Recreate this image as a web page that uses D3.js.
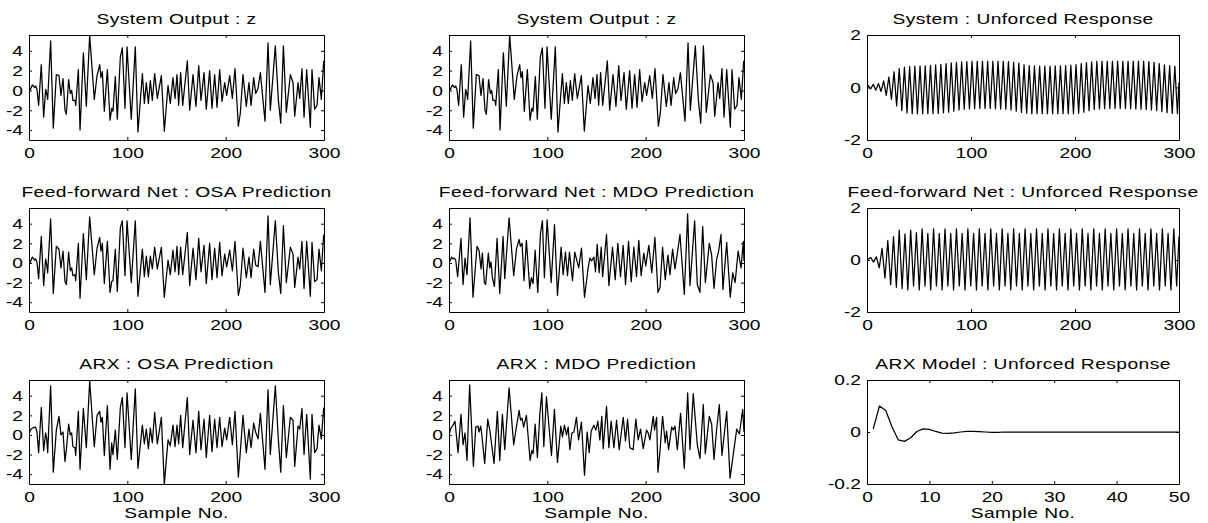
<!DOCTYPE html>
<html>
<head>
<meta charset="utf-8">
<script src="https://cdnjs.cloudflare.com/ajax/libs/d3/7.8.5/d3.min.js"></script>
<style>
  html, body { margin: 0; padding: 0; background: #fff; }
  svg { display: block; }
</style>
</head>
<body>
<svg id="fig" width="1208" height="523"></svg>
<script>
// ---------------------------------------------------------------------------
// Data: turning points of each record (sample number, value)
// ---------------------------------------------------------------------------

// Sample numbers of the turning points shared by z and the one-step-ahead predictions
const zSamples = [0, 1.4, 3.4, 5.8, 6.8, 8.1, 9.8, 12.5, 14.9, 16.9, 18, 19, 22, 24.7, 27.8, 30.5, 32.5, 34.6, 36.6, 38,
  40.3, 42, 43.4, 44.7, 46.8, 47.5, 50.2, 51.9, 55.3, 58.3, 61.7, 66.4, 69.2, 71.9, 73.2, 74.6, 76.6, 79.7, 82.4, 84.1,
  85.4, 87.8, 89.8, 92.9, 94.9, 97.6, 99.7, 104, 108.1, 110.8, 115.3, 117.3, 119.3, 121.4, 123.4, 125.4, 127.8, 130.5, 134.6, 137.6,
  141.4, 143.7, 146.4, 148.5, 150.5, 152.2, 154.2, 156.3, 161, 163.4, 166.8, 169.8, 172.6, 174.9, 178, 180.3, 183.7, 186.1, 188.8, 191.2,
  193.9, 196.3, 199, 201, 204.1, 206.8, 209.5, 212.9, 214.9, 217.6, 221, 223.7, 225.8, 228.5, 230.5, 232.9, 235.3, 240, 243.1, 245.4,
  250.5, 253.6, 256, 258.7, 261.7, 265.8, 268.5, 270.2, 273.6, 275.3, 277.6, 279.7, 282.4, 286.1, 287.8, 290.5, 292.9, 294.9, 297.3, 299.7];

// System output z
const zValues = [0.05, 0.1, 0.55, 0.3, 0.45, 0.1, -1.5, 2.6, -2.7, 0.1,
  -0.3, -0.9, 5.0, -3.8, 1.6, 1.5, -0.5, 1.2, -2.0, -2.4,
  1.1, -0.3, 0.0, -1.0, -1.0, -1.5, 2.1, -4.0, 3.8, -1.6,
  5.6, -0.9, 1.5, 2.6, 1.3, 1.9, -2.1, 2.1, -3.0, -1.8,
  -2.1, 1.4, -2.9, 3.4, 4.3, -1.8, 4.4, -2.9, 4.4, -4.2,
  1.7, -1.3, 0.8, -1.3, 1.0, -1.0, 1.7, -0.8, 1.5, -4.1,
  0.5, -1.3, 1.3, -0.8, 1.6, -1.5, 1.8, -1.5, 3.0, -2.0,
  1.6, -1.6, 2.5, -1.0, 1.8, -1.9, 2.0, -1.8, 1.6, -1.7,
  2.1, -1.1, 0.8, -0.5, 1.5, -0.8, 2.2, -3.6, -2.3, 1.6,
  -1.6, 0.8, -1.5, 1.3, -0.3, 0.2, 1.8, -3.1, 4.8, -2.0,
  4.5, -1.0, -3.3, 4.5, -2.2, 1.6, 0.8, -2.6, 0.8, -0.8,
  2.2, -2.7, 2.1, -3.7, 2.1, -1.9, -1.5, 1.3, -0.9, 3.0];

// Feed-forward net, one-step-ahead prediction
const ffOsaValues = [0.0, 0.1, 0.6, 0.3, 0.4, 0.1, -1.6, 2.7, -2.3, 0.4,
  -0.2, -1.0, 4.5, -3.1, 1.7, 1.4, -0.5, 1.2, -1.9, -2.2,
  1.1, -0.8, -0.5, -1.3, -1.2, -1.8, 2.0, -3.6, 3.0, -1.7,
  4.7, -1.2, 1.5, 2.6, 1.2, 2.0, -2.1, 2.2, -3.0, -1.9,
  -1.8, 1.4, -2.9, 3.6, 4.3, -1.3, 4.3, -2.0, 4.3, -3.4,
  1.4, -1.4, 0.7, -1.4, 0.7, -0.6, 1.6, -0.6, 1.6, -3.5,
  0.3, -1.2, 1.3, -0.9, 1.7, -1.2, 1.6, -1.2, 3.1, -2.3,
  1.5, -1.7, 2.5, -0.9, 1.8, -2.1, 2.0, -1.7, 1.5, -1.5,
  2.1, -1.3, 0.9, -0.4, 1.3, -0.8, 2.2, -3.3, -2.3, 1.5,
  -1.5, 0.6, -1.5, 1.4, -0.2, -0.4, 2.2, -3.0, 4.8, -2.2,
  4.3, -1.0, -3.1, 3.8, -2.0, 1.6, 0.9, -2.5, 0.6, -0.6,
  2.2, -2.6, 2.2, -3.4, 2.1, -1.9, -1.7, 1.4, -0.8, 2.9];

// ARX model, one-step-ahead prediction
const arxOsaValues = [0.0, 0.5, 0.7, 0.8, 0.8, 0.3, -1.8, 2.8, -1.6, 0.2,
  -0.4, -1.8, 5.0, -3.8, 0.5, 1.9, 0.0, 0.3, -2.7, -1.5,
  1.1, 0.0, 0.2, -1.2, -1.3, -2.1, 2.4, -3.5, 2.7, -1.3,
  5.5, -1.2, 2.0, 2.4, 1.3, 1.8, -2.1, 3.0, -3.5, -0.8,
  -2.0, 0.5, -2.5, 2.8, 3.8, -1.3, 4.3, -2.5, 4.7, -3.4,
  1.0, -0.9, 0.6, -1.4, 0.7, -0.8, 2.3, -0.9, 1.8, -5.0,
  -0.5, -1.1, 1.0, -1.2, 1.0, -0.9, 2.0, -1.3, 3.8, -2.0,
  1.5, -1.8, 2.4, -1.5, 1.6, -2.3, 2.0, -1.7, 1.6, -1.3,
  1.8, -1.2, 0.7, -0.5, 1.8, -1.0, 2.4, -4.3, -1.7, 2.0,
  -1.8, 0.6, -1.3, 1.2, 0.3, -0.4, 2.2, -3.5, 4.6, -2.0,
  5.0, -0.5, -3.8, 3.0, -2.3, 1.8, 1.5, -3.2, 0.9, 0.6,
  2.7, -2.0, 2.1, -4.5, 2.1, -1.8, -1.4, 1.0, -0.4, 2.8];

// Feed-forward net, multi-step (model output) prediction
const ffMdoPoints = [[0, 0.0], [2.7, 0.6], [4, 0.4], [5.4, 0.5], [6.8, 0.3], [8.8, -1.4], [12.2, 2.5], [14.3, -2.2], [16.3, 0.5], [18.3, -1.2],
  [21.4, 4.6], [24.4, -3.5], [28.5, 1.7], [30.5, 1.3], [32.6, -0.6], [33.9, 1.0], [36, -2.0], [37.3, -2.2], [40, 1.0], [41.4, -0.5],
  [42.7, 0.1], [44.1, -1.5], [46.2, -2.4], [48.9, 2.5], [51.6, -3.1], [55, 2.7], [56.7, -1.6], [61.1, 4.6], [65.8, -1.3], [68.6, 1.4],
  [71.3, 2.4], [72.6, 1.7], [74.3, 2.0], [76.3, -1.8], [78.7, 2.3], [82.1, -2.6], [83.8, -1.5], [85.5, -2.1], [87.6, 1.3], [90.3, -3.0],
  [93, 3.0], [95, 4.3], [97, -1.5], [99.8, 4.4], [103.9, -2.0], [107.3, 3.9], [110.3, -3.3], [114, 1.6], [116.1, -1.2], [118.4, 1.1],
  [120.5, -1.3], [122.5, 1.1], [125.6, -1.8], [127.9, 1.1], [131.9, -0.5], [134.7, 1.5], [137.8, -3.5], [141.5, -0.5], [143.3, 0.5], [145, 0.2],
  [147.3, 0.6], [149, -0.9], [150.7, 1.9], [152.7, -1.0], [154.8, 1.6], [156.2, -1.4], [160.2, 2.9], [162.6, -2.3], [166.3, 1.6], [169, -1.7],
  [171.7, 2.0], [174.4, -1.4], [177.1, 1.8], [179.5, -2.2], [182.6, 2.2], [185.3, -1.9], [188, 1.6], [190.7, -1.4], [193, 2.3], [195.4, -1.3],
  [198.1, 1.0], [200.1, -0.3], [203.2, 1.8], [206.2, -1.0], [209.4, 2.6], [212.5, -3.0], [214.6, -2.5], [217.2, 1.6], [219.9, -1.7], [222.7, 0.8],
  [224.7, -1.2], [227.4, 1.4], [229.8, -0.6], [232.1, 0.9], [234.9, 2.9], [239.3, -3.2], [242.7, 5.0], [245.1, -2.3], [249.8, 4.3], [252.5, -2.2],
  [255.2, -3.0], [258, 3.7], [260.7, -2.0], [264.7, 2.0], [267.1, 0.8], [269.5, -2.6], [272.2, 0.4], [274.2, 1.2], [276.6, 2.9], [278.6, -2.7],
  [282.4, 2.1], [286, -3.5], [288.5, -1.0], [291, -2.0], [294, 1.2], [297, -0.5], [299.3, 2.2], [300, 0.2]];

// ARX model, multi-step (model output) prediction
const arxMdoPoints = [[0, 0.0], [2, 0.7], [4.1, 1.0], [6.1, 1.4], [9.2, -1.8], [12.2, 2.1], [14.3, -1.0], [16.3, 0.2], [18.3, -2.6], [21, 5.1],
  [24.8, -3.2], [27.2, 0.8], [29.5, 0.9], [30.5, 0.3], [32.2, 0.9], [33.3, 0.1], [36.3, -2.9], [39.4, 1.6], [41.5, 0.5], [45.8, -2.9],
  [49.2, 2.4], [51.6, -2.6], [54.3, 2.1], [56.7, -1.5], [61.1, 4.8], [65.8, -1.0], [68.5, 0.8], [71.3, 2.5], [72.7, 1.5], [74.3, 1.7],
  [75.9, 0.8], [78.7, 2.0], [82.5, -2.6], [84.2, -1.6], [85.5, -1.9], [87.6, 1.1], [89.9, -2.3], [92.5, 2.3], [94.4, 4.3], [96.4, -1.2],
  [99.1, 3.9], [104.2, -2.1], [107.2, 2.6], [110.3, -2.8], [113.7, 0.9], [115.4, -0.2], [117.4, 1.0], [119.5, 0.0], [121.2, 0.8], [122.9, -1.5],
  [125, 0.2], [127, 0.3], [129.6, 1.8], [131.7, -0.5], [134.7, 1.3], [137.8, -4.1], [140.5, 0.3], [142.6, -1.8], [144.6, 0.4], [147.3, 1.0],
  [149.4, 0.5], [151.4, 1.4], [153.4, -0.5], [155.4, 1.9], [156.8, -1.4], [160.2, 2.9], [162.6, -1.3], [164.9, 1.4], [167.7, -1.3], [170.4, 1.5],
  [173.1, -1.5], [177.2, 1.8], [179.5, -0.6], [181.6, 1.6], [183.9, -1.3], [187.3, -1.5], [190, 1.6], [192.4, -0.5], [194.8, 0.6], [197.5, -1.4],
  [200.9, 0.5], [202.6, 0.2], [204.3, -0.5], [207.7, 1.9], [209, 0.5], [211.1, 1.8], [212.5, -3.8], [214.6, -1.6], [217.2, 1.9], [219.9, -0.8],
  [221.3, 0.4], [223.3, -1.5], [226.4, 0.8], [228.1, 0.5], [229.8, 0.9], [232.2, -1.5], [235.5, 2.2], [239.3, -3.4], [242.7, 4.3], [245.1, -1.5],
  [248.4, 4.2], [252.5, -1.0], [255.2, -2.4], [258.6, 3.1], [260.6, -1.9], [264.7, 1.9], [267.1, 1.1], [269.5, -2.5], [272.2, 0.6], [274.9, 3.1],
  [277.6, -2.1], [282.4, 2.4], [285.8, -4.4], [289.2, -1.9], [292.6, 0.6], [295.3, 0.1], [297.6, 1.8], [298.7, 2.6], [300, 0.3]];

// System, unforced response (peaks and troughs)
const sysFreePoints = [[0, 0.0], [1, 0.08], [3.5, -0.05], [6, 0.12], [8.5, -0.1], [11, 0.15], [13.5, -0.15], [16, 0.25], [18.5, -0.3], [21, 0.4],
  [23.5, -0.45], [26, 0.6], [28.5, -0.7], [31, 0.72], [33.5, -0.88], [36, 0.78], [38.5, -0.97], [41, 0.8], [43.5, -1.0], [46, 0.81],
  [48.5, -1.0], [51, 0.82], [53.5, -1.0], [56, 0.82], [58.5, -1.0], [61, 0.84], [63.5, -1.0], [66, 0.86], [68.5, -0.99], [71, 0.88],
  [73.5, -0.97], [76, 0.91], [78.5, -0.94], [81, 0.94], [83.5, -0.9], [86, 0.96], [88.5, -0.86], [91, 0.98], [93.5, -0.83], [96, 0.99],
  [98.5, -0.82], [101, 1.0], [103.5, -0.81], [106, 1.0], [108.5, -0.8], [111, 1.0], [113.5, -0.8], [116, 1.0], [118.5, -0.8], [121, 1.0],
  [123.5, -0.81], [126, 1.0], [128.5, -0.82], [131, 1.0], [133.5, -0.83], [136, 0.99], [138.5, -0.86], [141, 0.97], [143.5, -0.9], [146, 0.93],
  [148.5, -0.95], [151, 0.87], [153.5, -0.98], [156, 0.83], [158.5, -1.0], [161, 0.82], [163.5, -1.0], [166, 0.81], [168.5, -1.0], [171, 0.81],
  [173.5, -1.0], [176, 0.81], [178.5, -1.0], [181, 0.82], [183.5, -1.0], [186, 0.82], [188.5, -1.0], [191, 0.83], [193.5, -1.0], [196, 0.85],
  [198.5, -1.0], [201, 0.87], [203.5, -0.98], [206, 0.91], [208.5, -0.94], [211, 0.95], [213.5, -0.88], [216, 0.98], [218.5, -0.84], [221, 1.0],
  [223.5, -0.82], [226, 1.0], [228.5, -0.81], [231, 1.0], [233.5, -0.8], [236, 1.0], [238.5, -0.8], [241, 1.0], [243.5, -0.8], [246, 1.0],
  [248.5, -0.8], [251, 1.0], [253.5, -0.81], [256, 1.0], [258.5, -0.82], [261, 1.0], [263.5, -0.83], [266, 1.0], [268.5, -0.84], [271, 0.99],
  [273.5, -0.86], [276, 0.96], [278.5, -0.88], [281, 0.91], [283.5, -0.92], [286, 0.86], [288.5, -0.96], [291, 0.83], [293.5, -0.99], [296, 0.81],
  [298.5, -1.0], [300, 0.2]];

// Feed-forward net, unforced response (peaks and troughs)
const ffFreePoints = [[0, 0.0], [3.5, 0.1], [6.25, -0.08], [9, 0.12], [11.75, -0.3], [14.5, 0.45], [17.25, -0.7], [20, 0.75], [22.75, -0.95], [25.5, 0.9],
  [28.25, -1.05], [31, 1.15], [33.75, -1.1], [36.5, 1.0], [39.25, -1.15], [42, 1.15], [44.75, -1.0], [47.5, 1.05], [50.25, -1.15], [53, 1.2],
  [55.75, -1.0], [58.5, 1.02], [61.25, -1.15], [64, 1.2], [66.75, -1.0], [69.5, 1.02], [72.25, -1.15], [75, 1.2], [77.75, -1.0], [80.5, 1.02],
  [83.25, -1.15], [86, 1.2], [88.75, -1.0], [91.5, 1.02], [94.25, -1.15], [97, 1.2], [99.75, -1.0], [102.5, 1.02], [105.25, -1.15], [108, 1.2],
  [110.75, -1.0], [113.5, 1.02], [116.25, -1.15], [119, 1.2], [121.75, -1.0], [124.5, 1.02], [127.25, -1.15], [130, 1.2], [132.75, -1.0], [135.5, 1.02],
  [138.25, -1.15], [141, 1.2], [143.75, -1.0], [146.5, 1.02], [149.25, -1.15], [152, 1.2], [154.75, -1.0], [157.5, 1.02], [160.25, -1.15], [163, 1.2],
  [165.75, -1.0], [168.5, 1.02], [171.25, -1.15], [174, 1.2], [176.75, -1.0], [179.5, 1.02], [182.25, -1.15], [185, 1.2], [187.75, -1.0], [190.5, 1.02],
  [193.25, -1.15], [196, 1.2], [198.75, -1.0], [201.5, 1.02], [204.25, -1.15], [207, 1.2], [209.75, -1.0], [212.5, 1.02], [215.25, -1.15], [218, 1.2],
  [220.75, -1.0], [223.5, 1.02], [226.25, -1.15], [229, 1.2], [231.75, -1.0], [234.5, 1.02], [237.25, -1.15], [240, 1.2], [242.75, -1.0], [245.5, 1.02],
  [248.25, -1.15], [251, 1.2], [253.75, -1.0], [256.5, 1.02], [259.25, -1.15], [262, 1.2], [264.75, -1.0], [267.5, 1.02], [270.25, -1.15], [273, 1.2],
  [275.75, -1.0], [278.5, 1.02], [281.25, -1.15], [284, 1.2], [286.75, -1.0], [289.5, 1.02], [292.25, -1.15], [295, 1.2], [297.75, -1.0], [300, 0.9]];

// ARX model, unforced response, samples 1..50
const arxFreeValues = [0.012, 0.1, 0.083, 0.02, -0.03, -0.036, -0.022, 0.002, 0.012, 0.01,
  0.002, -0.004, -0.005, -0.003, 0.0, 0.002, 0.002, 0.001, 0.0, -0.001,
  -0.001, 0.0, 0.0, 0.0, 0.0, 0.0, 0.0, 0.0, 0.0, 0.0,
  0.0, 0.0, 0.0, 0.0, 0.0, 0.0, 0.0, 0.0, 0.0, 0.0,
  0.0, 0.0, 0.0, 0.0, 0.0, 0.0, 0.0, 0.0, 0.0, 0.0];

// Axis settings
const sampleTicks300 = [0, 100, 200, 300];
const sampleTicks50 = [0, 10, 20, 30, 40, 50];
const outputTicks = [-4, -2, 0, 2, 4];
const outputRange = [-5, 5.6];
const freeTicks = [-2, 0, 2];
const arxFreeTicks = [-0.2, 0, 0.2];

// ---------------------------------------------------------------------------
// Figure layout: 3 x 3 grid of boxed axes
// ---------------------------------------------------------------------------
const W = 1208, H = 523;
const FONT = "'Liberation Sans', Arial, Helvetica, sans-serif";
const FS = 15;       // font size (px)
const SX = 1.28;     // horizontal stretch of the lettering
const colX = [[29, 324], [449, 744], [867, 1179]];
const rowY = [[35, 140], [208, 312], [380, 484]];

const pair = (xs, ys) => xs.map((s, i) => [s, ys[i]]);
const zPoints = pair(zSamples, zValues);

const panels = [
  { c: 0, r: 0, title: "System Output : z", pts: zPoints },
  { c: 1, r: 0, title: "System Output : z", pts: zPoints },
  { c: 2, r: 0, title: "System : Unforced Response", pts: sysFreePoints, yd: [-2, 2], yt: freeTicks },
  { c: 0, r: 1, title: "Feed-forward Net : OSA Prediction", pts: pair(zSamples, ffOsaValues) },
  { c: 1, r: 1, title: "Feed-forward Net : MDO Prediction", pts: ffMdoPoints },
  { c: 2, r: 1, title: "Feed-forward Net : Unforced Response", pts: ffFreePoints, yd: [-2, 2], yt: freeTicks },
  { c: 0, r: 2, title: "ARX : OSA Prediction", pts: pair(zSamples, arxOsaValues), xl: true },
  { c: 1, r: 2, title: "ARX : MDO Prediction", pts: arxMdoPoints, xl: true },
  { c: 2, r: 2, title: "ARX Model : Unforced Response", pts: arxFreeValues.map((v, i) => [i + 1, v]),
    xd: [0, 50], xt: sampleTicks50, yd: [-0.2, 0.2], yt: arxFreeTicks, xl: true }
];

const svg = d3.select("#fig").attr("font-family", FONT);
svg.append("rect").attr("width", W).attr("height", H).attr("fill", "#fff");
const defs = svg.append("defs");

function stretchedText(g, x, y, txt, anchor) {
  g.append("text")
    .attr("transform", `translate(${x},${y}) scale(${SX},1)`)
    .attr("text-anchor", anchor)
    .attr("font-size", FS)
    .attr("letter-spacing", 0.35)
    .attr("fill", "#000")
    .text(txt);
}

function styleAxis(g) {
  g.attr("font-family", FONT).attr("font-size", FS);
  g.selectAll("path.domain").attr("stroke", "#000").attr("stroke-width", 1);
  g.selectAll(".tick line").attr("stroke", "#000").attr("stroke-width", 1);
  g.selectAll(".tick text").attr("fill", "#000").attr("transform", `scale(${SX},1)`);
}

panels.forEach((p, i) => {
  const [x0, x1] = colX[p.c];
  const [y0, y1] = rowY[p.r];
  const x = d3.scaleLinear().domain(p.xd || [0, 300]).range([x0, x1]);
  const y = d3.scaleLinear().domain(p.yd || outputRange).range([y1, y0]);
  const xt = p.xt || sampleTicks300;
  const yt = p.yt || outputTicks;
  const g = svg.append("g");

  // data trace
  const clipId = "clip" + i;
  defs.append("clipPath").attr("id", clipId)
    .append("rect").attr("x", x0).attr("y", y0).attr("width", x1 - x0).attr("height", y1 - y0);
  g.append("path")
    .datum(p.pts)
    .attr("clip-path", `url(#${clipId})`)
    .attr("fill", "none")
    .attr("stroke", "#000")
    .attr("stroke-width", 1.25)
    .attr("stroke-linejoin", "round")
    .attr("d", d3.line().x(d => x(d[0])).y(d => y(d[1])));

  // box with inward ticks on all four sides
  const bottom = g.append("g").attr("transform", `translate(0,${y1})`)
    .call(d3.axisBottom(x).tickValues(xt).tickSizeInner(-3).tickSizeOuter(0).tickPadding(7.5)
      .tickFormat(d3.format("d")));
  styleAxis(bottom);
  const top = g.append("g").attr("transform", `translate(0,${y0})`)
    .call(d3.axisTop(x).tickValues(xt).tickSizeInner(-3).tickSizeOuter(0).tickFormat(""));
  styleAxis(top);
  const left = g.append("g").attr("transform", `translate(${x0},0)`)
    .call(d3.axisLeft(y).tickValues(yt).tickSizeInner(-3).tickSizeOuter(0).tickPadding(4.7)
      .tickFormat(d => (d === 0 ? "0" : String(d))));
  styleAxis(left);
  const right = g.append("g").attr("transform", `translate(${x1},0)`)
    .call(d3.axisRight(y).tickValues(yt).tickSizeInner(-3).tickSizeOuter(0).tickFormat(""));
  styleAxis(right);

  // title and x label
  stretchedText(g, (x0 + x1) / 2, y0 - 11, p.title, "middle");
  if (p.xl) stretchedText(g, (x0 + x1) / 2, y1 + 33.5, "Sample No.", "middle");
});
</script>
</body>
</html>
